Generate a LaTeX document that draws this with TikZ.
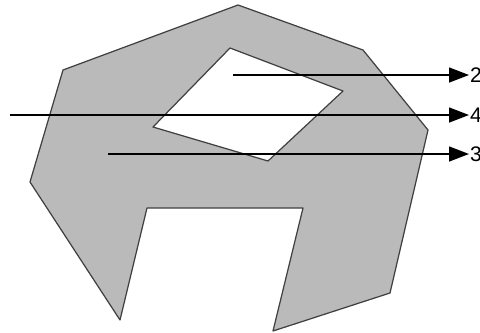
\documentclass[tikz,border=0pt]{standalone}
\usepackage{fontspec}
\setmainfont{Liberation Sans}
\usetikzlibrary{arrows.meta, positioning}

\begin{document}
\begin{tikzpicture}[x=0.02cm, y=-0.02cm,
  region/.style={draw=black!75, line width=0.7pt, fill=black!27, line join=round},
  hole/.style={draw=black!75, line width=0.7pt, fill=white, line join=round},
  ray/.style={line width=0.8pt, -{Triangle[length=4mm, width=3mm]}},
  lbl/.style={anchor=west, inner sep=0.5pt, font=\fontsize{12}{13}\selectfont}]
\useasboundingbox (0,0) rectangle (480,332);
\clip (0,0) rectangle (480,332);
% polygon with a hole and a notch
\draw[region] (63,70) -- (238,5) -- (363,50) -- (428,130) -- (390,293) -- (273,331)
  -- (303,208) -- (147,208) -- (120,320) -- (30,182) -- cycle;
\draw[hole] (230,48) -- (343,91) -- (268,161) -- (153,127) -- cycle;
% rays
\coordinate (s2) at (233,75);
\coordinate (s4) at (10,115);
\coordinate (s3) at (108,154);
\node[lbl] (l2) at (469,75) {2};
\node[lbl] (l4) at (469,115) {4};
\node[lbl] (l3) at (469,154) {3};
\draw[ray] (s2) -- (l2.west);
\draw[ray] (s4) -- (l4.west);
\draw[ray] (s3) -- (l3.west);
\end{tikzpicture}
\end{document}
